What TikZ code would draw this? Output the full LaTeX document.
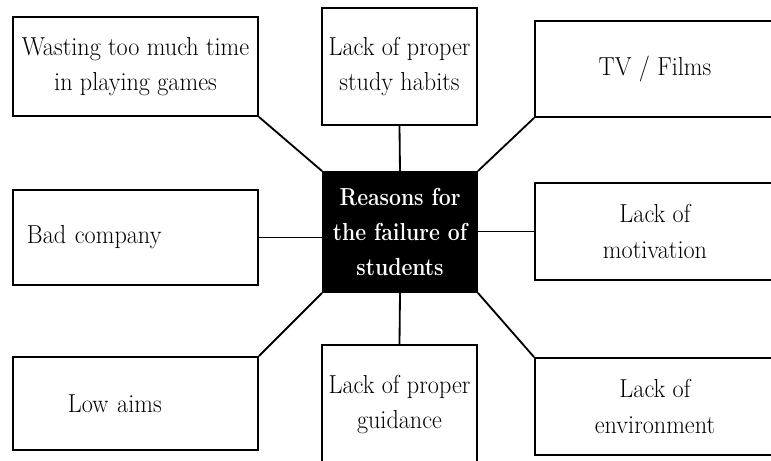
\documentclass[tikz,border=0pt]{standalone}
\usepackage{fontspec}
\usepackage{tikz}
\newfontfamily\reasonfont{lmroman17-regular.otf}[FakeStretch=0.93]
\newfontfamily\hubfont{lmroman12-bold.otf}[FakeStretch=0.86]

\begin{document}
\begin{tikzpicture}[x=0.025cm, y=-0.025cm,
  reason/.style={draw, line width=1.3pt, align=center, inner sep=2pt, font=\reasonfont\fontsize{18.5}{25}\selectfont},
  hub/.style={reason, fill=black, text=white, font=\hubfont\fontsize{17.5}{25}\selectfont},
  link/.style={line width=1.3pt}]
  \useasboundingbox (0,0) rectangle (771,461);
  % centre
  \node[hub, minimum width=3.85cm, minimum height=3cm] (ctr) at (400,232) {Reasons for\\the failure of\\students};
  % top row
  \node[reason, minimum width=6.125cm, minimum height=2.475cm] (games) at (135.5,66.5) {Wasting too much time\\in playing games};
  \node[reason, minimum width=3.875cm, minimum height=2.925cm] (habits) at (399.5,66.5) {Lack of proper\\study habits};
  \node[reason, minimum width=6cm, minimum height=2.4cm] (tv) at (655,69) {TV / Films};
  % middle row
  \node[reason, minimum width=6.125cm, minimum height=2.375cm, text width=5.425cm, align=left] (company) at (135.5,237.5) {Bad company};
  \node[reason, minimum width=6cm, minimum height=2.425cm] (motiv) at (655,231.5) {Lack of\\motivation};
  % bottom row
  \node[reason, minimum width=6.125cm, minimum height=2.325cm, text width=3.375cm, align=left] (aims) at (135.5,403.5) {Low aims};
  \node[reason, minimum width=3.875cm, minimum height=2.975cm] (guide) at (399.5,404.5) {Lack of proper\\guidance};
  \node[reason, minimum width=6cm, minimum height=2.425cm] (env) at (655,406.5) {Lack of\\environment};
  % links
  \draw[link] (games.south east) -- (ctr.north west);
  \draw[link] (habits.south) -- (ctr.north);
  \draw[link] (tv.south west) -- (ctr.north east);
  \draw[link] (company.east) -- (company.east -| ctr.west);
  \draw[link] (motiv.west) -- (motiv.west -| ctr.east);
  \draw[link] (aims.north east) -- (ctr.south west);
  \draw[link] (guide.north) -- (ctr.south);
  \draw[link] (env.north west) -- (ctr.south east);
\end{tikzpicture}
\end{document}
